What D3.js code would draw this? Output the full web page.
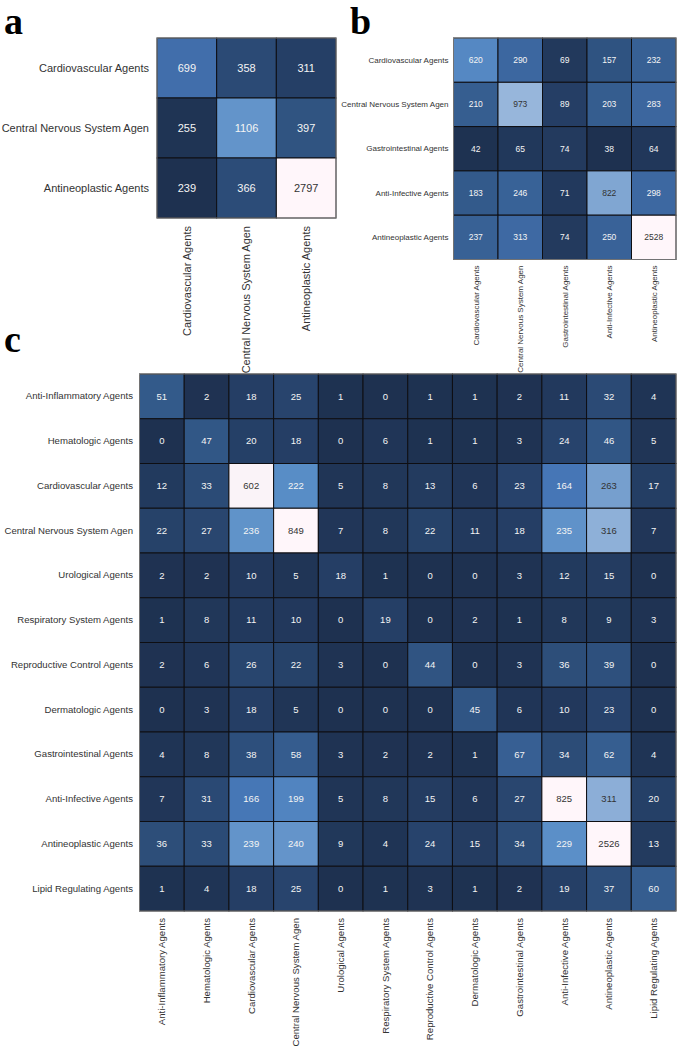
<!DOCTYPE html>
<html>
<head>
<meta charset="utf-8">
<script src="https://cdn.jsdelivr.net/npm/d3@7"></script>
<style>
  html, body { margin: 0; padding: 0; background: #fff; }
  svg { display: block; }
</style>
</head>
<body>
<svg id="chart" width="678" height="1050"></svg>
<script>
// ---------- data ----------
const catsA = ["Cardiovascular Agents", "Central Nervous System Agen", "Antineoplastic Agents"];
const valsA = [
  [699, 358, 311],
  [255, 1106, 397],
  [239, 366, 2797]
];

const catsB = ["Cardiovascular Agents", "Central Nervous System Agen", "Gastrointestinal Agents",
  "Anti-Infective Agents", "Antineoplastic Agents"];
const valsB = [
  [620, 290, 69, 157, 232],
  [210, 973, 89, 203, 283],
  [42, 65, 74, 38, 64],
  [183, 246, 71, 822, 298],
  [237, 313, 74, 250, 2528]
];

const catsC = ["Anti-Inflammatory Agents", "Hematologic Agents", "Cardiovascular Agents",
  "Central Nervous System Agen", "Urological Agents", "Respiratory System Agents",
  "Reproductive Control Agents", "Dermatologic Agents", "Gastrointestinal Agents",
  "Anti-Infective Agents", "Antineoplastic Agents", "Lipid Regulating Agents"];
const valsC = [
  [51, 2, 18, 25, 1, 0, 1, 1, 2, 11, 32, 4],
  [0, 47, 20, 18, 0, 6, 1, 1, 3, 24, 46, 5],
  [12, 33, 602, 222, 5, 8, 13, 6, 23, 164, 263, 17],
  [22, 27, 236, 849, 7, 8, 22, 11, 18, 235, 316, 7],
  [2, 2, 10, 5, 18, 1, 0, 0, 3, 12, 15, 0],
  [1, 8, 11, 10, 0, 19, 0, 2, 1, 8, 9, 3],
  [2, 6, 26, 22, 3, 0, 44, 0, 3, 36, 39, 0],
  [0, 3, 18, 5, 0, 0, 0, 45, 6, 10, 23, 0],
  [4, 8, 38, 58, 3, 2, 2, 1, 67, 34, 62, 4],
  [7, 31, 166, 199, 5, 8, 15, 6, 27, 825, 311, 20],
  [36, 33, 239, 240, 9, 4, 24, 15, 34, 229, 2526, 13],
  [1, 4, 18, 25, 0, 1, 3, 1, 2, 19, 37, 60]
];

// colormap stops (dark navy -> blue -> near white)
const cmapStops = [0, 0.03, 0.08, 0.15, 0.26, 0.36, 0.42, 0.5, 0.65, 0.8, 0.95, 1];
const cmapColors = ["#1e3150", "#253f66", "#335a8a", "#3d68a2", "#4676b6", "#5a8fc8",
  "#78a0cf", "#8eb0d8", "#b5cbe6", "#dde6f3", "#faf3f8", "#fff6fa"];

// ---------- drawing ----------
const svg = d3.select("#chart");
const font = "'Liberation Sans', Arial, sans-serif";

function luminance(c) {
  const rgb = d3.rgb(c);
  const lin = v => { v /= 255; return v <= 0.03928 ? v / 12.92 : Math.pow((v + 0.055) / 1.055, 2.4); };
  return 0.2126 * lin(rgb.r) + 0.7152 * lin(rgb.g) + 0.0722 * lin(rgb.b);
}

function heatmap(cfg) {
  const { cats, vals, x0, y0, x1, y1, labelSize, annotSize, rowPad, colPad } = cfg;
  const flat = vals.flat().sort(d3.ascending);
  const vmin = d3.quantile(flat, 0.02);
  const vmax = d3.quantile(flat, 0.98);
  const norm = d3.scaleLinear().domain([vmin, vmax]).range([0, 1]).clamp(true);
  const cmap = d3.scaleLinear().domain(cmapStops).range(cmapColors).interpolate(d3.interpolateRgb).clamp(true);

  const x = d3.scaleBand().domain(cats).range([x0, x1]).padding(0);
  const y = d3.scaleBand().domain(cats).range([y0, y1]).padding(0);

  const g = svg.append("g");
  const cells = [];
  vals.forEach((row, i) => row.forEach((v, j) => cells.push({ r: cats[i], c: cats[j], v })));

  g.selectAll("rect.cell").data(cells).enter().append("rect")
    .attr("class", "cell")
    .attr("x", d => x(d.c))
    .attr("y", d => y(d.r))
    .attr("width", x.bandwidth())
    .attr("height", y.bandwidth())
    .attr("fill", d => cmap(norm(d.v)))
    .attr("stroke", "#0e0e12")
    .attr("stroke-width", 1);

  g.selectAll("text.annot").data(cells).enter().append("text")
    .attr("class", "annot")
    .attr("x", d => x(d.c) + x.bandwidth() / 2)
    .attr("y", d => y(d.r) + y.bandwidth() / 2)
    .attr("dy", "0.35em")
    .attr("text-anchor", "middle")
    .style("font-family", font)
    .style("font-size", annotSize + "px")
    .attr("fill", d => luminance(cmap(norm(d.v))) > 0.31 ? "#333333" : "#f4f4f4")
    .text(d => d.v);

  // outer frame
  g.append("rect")
    .attr("x", x0).attr("y", y0)
    .attr("width", x1 - x0).attr("height", y1 - y0)
    .attr("fill", "none")
    .attr("stroke", "#8c8c8c")
    .attr("stroke-width", 0.8);

  // axes
  const yAxis = d3.axisLeft(y).tickSize(0).tickPadding(rowPad);
  const ya = g.append("g").attr("transform", `translate(${x0},0)`).call(yAxis);
  ya.select(".domain").remove();
  ya.selectAll("text").style("font-family", font).style("font-size", labelSize + "px").attr("fill", "#333");

  const xAxis = d3.axisBottom(x).tickSize(0);
  const xa = g.append("g").attr("transform", `translate(0,${y1})`).call(xAxis);
  xa.select(".domain").remove();
  xa.selectAll("text")
    .attr("transform", "rotate(-90)")
    .attr("x", -colPad)
    .attr("y", 0)
    .attr("dy", "0.35em")
    .style("text-anchor", "end")
    .style("font-family", font)
    .style("font-size", labelSize + "px")
    .attr("fill", "#333");
}

heatmap({ cats: catsA, vals: valsA, x0: 157, y0: 38, x1: 336, y1: 218, labelSize: 11, annotSize: 11, rowPad: 8, colPad: 8 });
heatmap({ cats: catsB, vals: valsB, x0: 453.5, y0: 38, x1: 676, y1: 259.5, labelSize: 8, annotSize: 8.5, rowPad: 5, colPad: 6 });
heatmap({ cats: catsC, vals: valsC, x0: 139.5, y0: 374, x1: 676, y1: 911, labelSize: 9.6, annotSize: 9.5, rowPad: 6.5, colPad: 7 });

// panel letters
const letters = [["a", 4, 34], ["b", 350, 34], ["c", 4, 352]];
svg.selectAll("text.letter").data(letters).enter().append("text")
  .attr("class", "letter")
  .attr("x", d => d[1]).attr("y", d => d[2])
  .style("font-family", "'Liberation Serif', 'Times New Roman', serif")
  .style("font-weight", "bold")
  .style("font-size", "38px")
  .attr("fill", "#000")
  .text(d => d[0]);
</script>
</body>
</html>
